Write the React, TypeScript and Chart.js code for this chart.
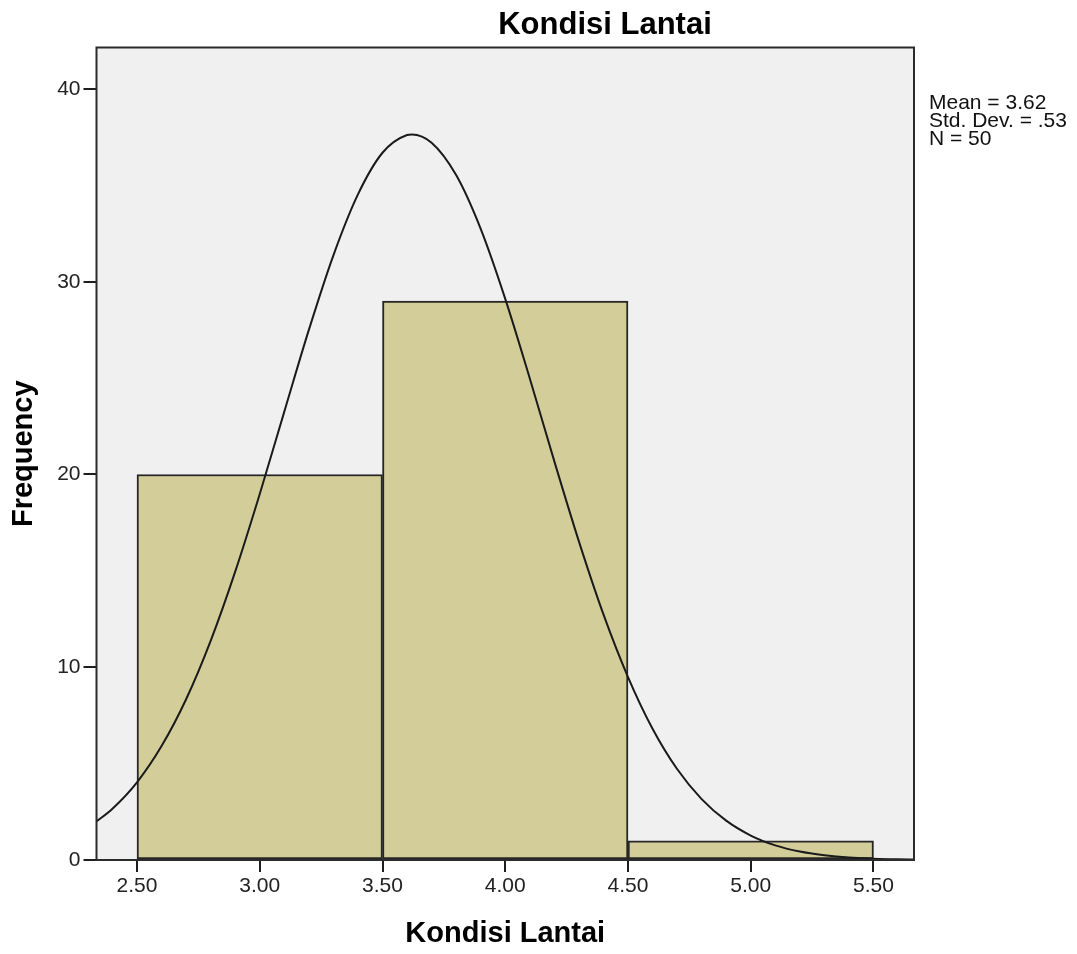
import React, { useEffect, useRef } from "react";
import { Chart, registerables } from "chart.js";

Chart.register(...registerables);

const chartTitle = "Kondisi Lantai";
const xAxisTitle = "Kondisi Lantai";
const yAxisTitle = "Frequency";

const binCenters = [3.0, 4.0, 5.0];
const binCounts = [20, 29, 1];

const xTickValues = [2.5, 3.0, 3.5, 4.0, 4.5, 5.0, 5.5];
const yTickValues = [0, 10, 20, 30, 40];

const curveX = [
  2.33, 2.4, 2.5, 2.6, 2.7, 2.8, 2.9, 3.0, 3.1, 3.2, 3.3, 3.4, 3.5, 3.6, 3.62,
  3.7, 3.8, 3.9, 4.0, 4.1, 4.2, 4.3, 4.4, 4.5, 4.6, 4.7, 4.8, 4.9, 5.0, 5.1,
  5.2, 5.3, 5.4, 5.5, 5.6, 5.67,
];
const curveY = [
  1.95, 2.66, 4.03, 5.91, 8.34, 11.37, 14.96, 18.99, 23.26, 27.5, 31.37, 34.53,
  36.69, 37.61, 37.64, 37.21, 35.53, 32.74, 29.11, 24.98, 20.68, 16.53, 12.74,
  9.49, 6.81, 4.72, 3.16, 2.04, 1.27, 0.76, 0.44, 0.25, 0.13, 0.07, 0.035, 0.02,
];

const statsLines = ["Mean = 3.62", "Std. Dev. = .53", "N = 50"];

const xMin = 2.335;
const xMax = 5.665;
const yMin = 0;
const yMax = 42.15;

const FONT = "'Liberation Sans', Arial, Helvetica, sans-serif";

export default function App() {
  const ref = useRef<HTMLCanvasElement | null>(null);

  useEffect(() => {
    const canvas = ref.current;
    if (!canvas) return;

    const framePlugin = {
      id: "spssFrame",
      beforeDraw(chart: any) {
        const { ctx, chartArea: a } = chart;
        ctx.save();
        ctx.fillStyle = "#ffffff";
        ctx.fillRect(0, 0, chart.width, chart.height);
        ctx.fillStyle = "#f0f0f0";
        ctx.fillRect(a.left, a.top, a.right - a.left, a.bottom - a.top);
        ctx.restore();
      },
      afterDraw(chart: any) {
        const { ctx, chartArea: a } = chart;
        ctx.save();
        ctx.strokeStyle = "#2b2b2b";
        ctx.lineWidth = 2;
        ctx.strokeRect(a.left, a.top, a.right - a.left, a.bottom - a.top);

        ctx.fillStyle = "#000000";
        ctx.font = `bold 31px ${FONT}`;
        ctx.textAlign = "center";
        ctx.textBaseline = "alphabetic";
        ctx.fillText(chartTitle, 605, 34);

        ctx.font = `21px ${FONT}`;
        ctx.textAlign = "left";
        ctx.fillStyle = "#111111";
        statsLines.forEach((s, i) => {
          ctx.fillText(s, a.right + 15, 109 + i * 18);
        });
        ctx.restore();
      },
    };

    const chart = new Chart(canvas, {
      type: "bar",
      data: {
        datasets: [
          {
            type: "line",
            data: curveX.map((x, i) => ({ x, y: curveY[i] })),
            borderColor: "#1a1a1a",
            borderWidth: 2,
            pointRadius: 0,
            fill: false,
            cubicInterpolationMode: "monotone",
            order: 0,
          } as any,
          {
            type: "bar",
            data: binCenters.map((x, i) => ({ x, y: binCounts[i] })),
            backgroundColor: "#d3ce99",
            borderColor: "#262626",
            borderWidth: 2,
            borderSkipped: false,
            barThickness: "flex",
            barPercentage: 1,
            categoryPercentage: 1,
            order: 1,
          } as any,
        ],
      },
      options: {
        responsive: false,
        animation: false,
        devicePixelRatio: 1,
        layout: { padding: { left: 0, top: 47.5, right: 163, bottom: 0 } },
        plugins: {
          legend: { display: false },
          tooltip: { enabled: false },
          title: { display: false },
        },
        scales: {
          x: {
            type: "linear",
            min: xMin,
            max: xMax,
            offset: false,
            afterFit(scale: any) {
              scale.height = 94;
            },
            afterBuildTicks(scale: any) {
              scale.ticks = xTickValues.map((v) => ({ value: v }));
            },
            grid: {
              display: true,
              offset: false,
              drawOnChartArea: false,
              drawTicks: true,
              tickLength: 12,
              color: "#1e1e1e",
              lineWidth: 2,
            },
            border: { display: false },
            ticks: {
              autoSkip: false,
              maxRotation: 0,
              padding: 2,
              color: "#222222",
              font: { family: FONT, size: 21 },
              callback: (v: any) => Number(v).toFixed(2),
            },
            title: {
              display: true,
              text: xAxisTitle,
              color: "#000000",
              font: { family: FONT, size: 29, weight: "bold" },
              padding: { top: 0, bottom: 3 },
            },
          },
          y: {
            type: "linear",
            min: yMin,
            max: yMax,
            afterFit(scale: any) {
              scale.width = 96.5;
            },
            afterBuildTicks(scale: any) {
              scale.ticks = yTickValues.map((v) => ({ value: v }));
            },
            grid: {
              display: true,
              drawOnChartArea: false,
              drawTicks: true,
              tickLength: 13,
              color: "#1e1e1e",
              lineWidth: 2,
            },
            border: { display: false },
            ticks: {
              autoSkip: false,
              padding: 3,
              color: "#222222",
              font: { family: FONT, size: 21 },
              callback: (v: any) => String(v),
            },
            title: {
              display: true,
              text: yAxisTitle,
              color: "#000000",
              font: { family: FONT, size: 29, weight: "bold" },
              padding: { top: 7, bottom: 0 },
            },
          },
        },
      },
      plugins: [framePlugin],
    } as any);

    return () => chart.destroy();
  }, []);

  return (
    <div style={{ position: "fixed", left: 0, top: 0, width: 1077, height: 954, background: "#fff" }}>
      <canvas ref={ref} width={1077} height={954} style={{ width: 1077, height: 954, display: "block" }} />
    </div>
  );
}
